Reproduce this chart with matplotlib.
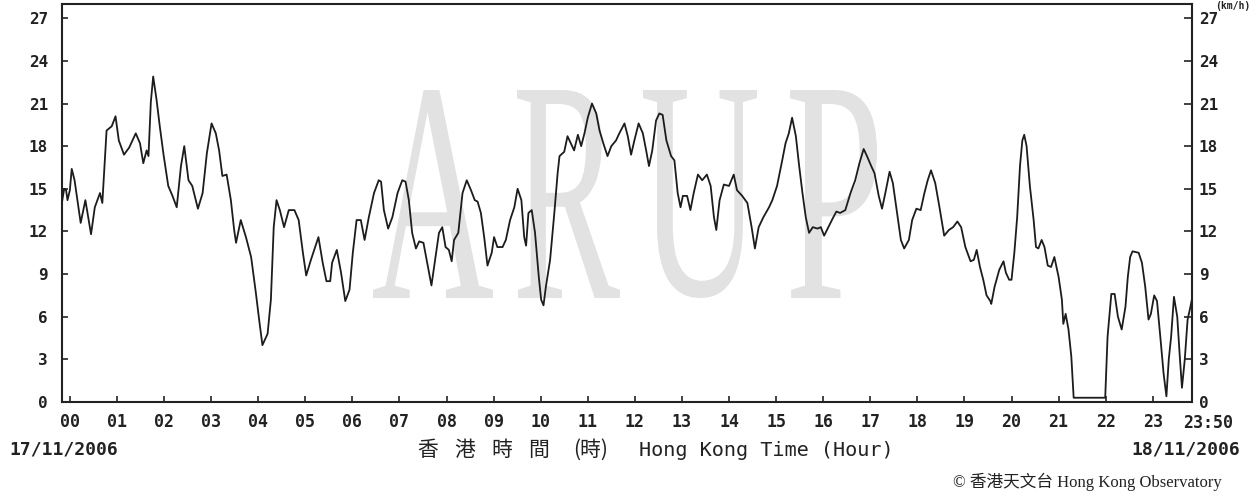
import matplotlib
matplotlib.use("Agg")
import matplotlib.pyplot as plt
from matplotlib.font_manager import FontProperties
from matplotlib.textpath import TextPath
from matplotlib.patches import PathPatch
from matplotlib.transforms import Affine2D

# wind speed (km/h), time in hours of 17/11/2006 (last 24 h ending 23:50)
hours = [
    -0.17, -0.12, -0.08, -0.05, 0.00, 0.04, 0.10, 0.23, 0.33, 0.45, 0.53, 0.64, 0.69,
    0.78, 0.89, 0.97, 1.04, 1.15, 1.26, 1.40, 1.49, 1.56, 1.63, 1.67, 1.72, 1.77,
    1.84, 1.91, 1.99, 2.09, 2.18, 2.27, 2.36, 2.43, 2.52, 2.60, 2.72, 2.82, 2.91,
    3.01, 3.10, 3.17, 3.24, 3.33, 3.42, 3.49, 3.53, 3.63, 3.74, 3.85, 3.95, 4.02,
    4.09, 4.20, 4.27, 4.33, 4.39, 4.46, 4.55, 4.65, 4.77, 4.86, 4.95, 5.02, 5.12,
    5.21, 5.28, 5.37, 5.45, 5.53, 5.57, 5.67, 5.76, 5.85, 5.94, 6.01, 6.09, 6.18,
    6.26, 6.35, 6.46, 6.56, 6.61, 6.67, 6.76, 6.85, 6.96, 7.06, 7.13, 7.20, 7.27,
    7.35, 7.42, 7.51, 7.59, 7.68, 7.75, 7.84, 7.91, 7.98, 8.05, 8.11, 8.16, 8.25,
    8.34, 8.43, 8.52, 8.60, 8.66, 8.73, 8.80, 8.87, 8.96, 9.01, 9.08, 9.19, 9.26,
    9.35, 9.44, 9.51, 9.59, 9.65, 9.69, 9.74, 9.81, 9.88, 9.96, 10.01, 10.06, 10.11,
    10.20, 10.29, 10.36, 10.40, 10.50, 10.57, 10.64, 10.71, 10.79, 10.86, 10.93,
    11.00, 11.09, 11.18, 11.25, 11.33, 11.42, 11.50, 11.60, 11.67, 11.78, 11.85,
    11.92, 11.99, 12.08, 12.17, 12.24, 12.30, 12.37, 12.45, 12.52, 12.59, 12.67,
    12.77, 12.84, 12.91, 12.97, 13.02, 13.11, 13.18, 13.25, 13.34, 13.43, 13.53,
    13.61, 13.68, 13.73, 13.80, 13.89, 14.00, 14.10, 14.17, 14.28, 14.39, 14.48,
    14.55, 14.63, 14.73, 14.85, 14.92, 15.02, 15.13, 15.20, 15.27, 15.34, 15.42,
    15.49, 15.56, 15.63, 15.70, 15.78, 15.88, 15.95, 16.02, 16.11, 16.20, 16.28,
    16.36, 16.47, 16.58, 16.68, 16.77, 16.86, 16.93, 17.02, 17.09, 17.18, 17.25,
    17.32, 17.41, 17.48, 17.57, 17.65, 17.72, 17.82, 17.89, 17.98, 18.07, 18.15,
    18.22, 18.29, 18.38, 18.47, 18.57, 18.67, 18.76, 18.85, 18.93, 19.02, 19.13,
    19.20, 19.26, 19.33, 19.40, 19.47, 19.55, 19.57, 19.64, 19.74, 19.83, 19.88,
    19.95, 20.00, 20.06, 20.12, 20.18, 20.23, 20.27, 20.32, 20.39, 20.47, 20.52,
    20.57, 20.64, 20.70, 20.77, 20.84, 20.91, 21.00, 21.07, 21.10, 21.15, 21.21,
    21.27, 21.32, 21.99, 22.04, 22.12, 22.19, 22.26, 22.34, 22.42, 22.47, 22.52,
    22.57, 22.70, 22.77, 22.84, 22.91, 22.96, 23.03, 23.09, 23.16, 23.23, 23.29,
    23.34, 23.39, 23.45, 23.52, 23.57, 23.62, 23.68, 23.74, 23.80, 23.83,
]
speed = [
    14.0, 15.0, 14.9, 14.2, 14.9, 16.4, 15.6, 12.6, 14.2, 11.8, 13.7, 14.7, 14.0,
    19.1, 19.4, 20.1, 18.4, 17.4, 17.9, 18.9, 18.2, 16.8, 17.7, 17.3, 21.1, 22.9,
    21.3, 19.4, 17.4, 15.2, 14.5, 13.7, 16.6, 18.0, 15.6, 15.2, 13.6, 14.7, 17.5,
    19.6, 18.9, 17.7, 15.9, 16.0, 14.2, 12.1, 11.2, 12.8, 11.6, 10.2, 7.7, 5.8,
    4.0, 4.8, 7.2, 12.3, 14.2, 13.5, 12.3, 13.5, 13.5, 12.8, 10.5, 8.9, 10.0,
    10.9, 11.6, 9.8, 8.5, 8.5, 9.8, 10.7, 9.1, 7.1, 7.9, 10.5, 12.8, 12.8,
    11.4, 13.0, 14.7, 15.6, 15.5, 13.5, 12.2, 13.0, 14.7, 15.6, 15.5, 14.2, 11.9,
    10.8, 11.3, 11.2, 9.8, 8.2, 9.8, 11.9, 12.3, 10.9, 10.7, 9.9, 11.4, 11.9,
    14.7, 15.6, 14.9, 14.2, 14.1, 13.3, 11.6, 9.6, 10.5, 11.6, 10.9, 10.9, 11.4,
    12.8, 13.7, 15.0, 14.2, 11.6, 11.0, 13.3, 13.5, 11.9, 8.8, 7.2, 6.8, 8.1,
    10.0, 13.3, 16.1, 17.3, 17.6, 18.7, 18.2, 17.7, 18.8, 18.0, 18.9,
    20.0, 21.0, 20.3, 19.1, 18.2, 17.3, 18.0, 18.4, 18.9, 19.6, 18.7,
    17.4, 18.4, 19.6, 18.9, 17.7, 16.6, 17.7, 19.8, 20.3, 20.2, 18.4,
    17.3, 17.0, 14.7, 13.7, 14.5, 14.5, 13.5, 14.7, 16.0, 15.6, 16.0,
    15.2, 13.0, 12.1, 14.2, 15.3, 15.2, 16.0, 14.9, 14.5, 14.0, 12.3,
    10.8, 12.3, 13.0, 13.7, 14.2, 15.2, 17.0, 18.2, 18.9, 20.0, 18.7,
    16.6, 14.7, 13.0, 11.9, 12.3, 12.2, 12.3, 11.7, 12.3, 12.9, 13.4,
    13.3, 13.5, 14.7, 15.6, 16.8, 17.8, 17.3, 16.6, 16.1, 14.5, 13.6,
    14.7, 16.2, 15.4, 13.3, 11.4, 10.8, 11.4, 12.8, 13.6, 13.5, 14.7,
    15.6, 16.3, 15.4, 13.7, 11.7, 12.1, 12.3, 12.7, 12.3, 10.9, 9.9,
    10.0, 10.7, 9.5, 8.6, 7.5, 7.1, 6.9, 8.1, 9.3, 9.9, 9.1,
    8.6, 8.6, 10.5, 13.0, 16.6, 18.4, 18.8, 18.0, 15.2, 12.8, 10.9,
    10.8, 11.4, 10.9, 9.6, 9.5, 10.2, 8.8, 7.2, 5.5, 6.2, 5.1,
    3.2, 0.3, 0.3, 4.6, 7.6, 7.6, 6.0, 5.1, 6.7, 8.8, 10.2,
    10.6, 10.5, 9.8, 8.1, 5.8, 6.2, 7.5, 7.1, 4.6, 2.0, 0.4,
    3.0, 4.6, 7.4, 6.0, 3.4, 1.0, 3.0, 5.8, 6.7, 7.2,
]

hour_ticks = list(range(24))
hour_labels = [f"{h:02d}" for h in hour_ticks]
speed_ticks = list(range(0, 28, 3))

W, H = 1256, 495
fig = plt.figure(figsize=(W / 100, H / 100), dpi=100)
fig.patch.set_facecolor("white")

ax = fig.add_axes([62 / W, (H - 402) / H, 1130 / W, 398 / H])
ax.set_xlim(-1 / 6, 23 + 5 / 6)
ax.set_ylim(0, 28)

mono_b = dict(family="DejaVu Sans Mono", weight="bold")

# faded ARUP watermark behind the trace, letters stretched to fill their boxes
wm_font = FontProperties(family="Liberation Serif")
wm_spans = [(373, 493), (517, 620), (643, 757), (790, 877)]
wm_top, wm_bottom = 90, 298
for letter, (x0, x1) in zip("ARUP", wm_spans):
    p = TextPath((0, 0), letter, size=100, prop=wm_font)
    ext = p.get_extents()
    tr = (Affine2D()
          .translate(-ext.x0, -ext.y0)
          .scale((x1 - x0) / ext.width, (wm_bottom - wm_top) / ext.height)
          .translate(x0, H - wm_bottom)
          .scale(1 / W, 1 / H)) + fig.transFigure
    ax.add_patch(PathPatch(p, transform=tr, fc="#e2e2e2", ec="none", zorder=1))

ax.plot(hours, speed, color="#1c1c1c", lw=1.3, zorder=3)

for s in ax.spines.values():
    s.set_linewidth(1.5)
    s.set_color("#222222")

ax.set_xticks(hour_ticks)
ax.set_xticklabels(hour_labels, fontsize=12, **mono_b)
ax.tick_params(axis="x", direction="in", length=4.5, width=1.2, pad=8, colors="#222222")
ax.set_yticks(speed_ticks)
ax.set_yticklabels([str(v) for v in speed_ticks], fontsize=11.5, **mono_b)
ax.tick_params(axis="y", direction="in", length=4.5, width=1.2, pad=10, colors="#222222")

ax2 = ax.twinx()
ax2.set_ylim(ax.get_ylim())
ax2.set_yticks(speed_ticks)
ax2.set_yticklabels([str(v) for v in speed_ticks], fontsize=11.5, **mono_b)
ax2.tick_params(axis="y", direction="in", length=6, width=1.2, pad=5, colors="#222222")
for s in ax2.spines.values():
    s.set_visible(False)

ax.annotate("23:50", xy=(1, 0), xycoords="axes fraction", xytext=(16, -12),
            textcoords="offset pixels", ha="center", va="top", fontsize=12,
            color="#222222", **mono_b)

# dates under the axis ends
fig.text(9 / W, 1 - 449 / H, "17/11/2006", ha="left", va="center",
         fontsize=13, color="#222222", **mono_b)
fig.text(1240 / W, 1 - 449 / H, "18/11/2006", ha="right", va="center",
         fontsize=13, color="#222222", **mono_b)

# axis title: Chinese part spaced out, English part in mono
for ch, cx in zip(["香", "港", "時", "間", "(時)"], [428, 465, 502, 539, 591]):
    fig.text(cx / W, 1 - 450 / H, ch, ha="center", va="center", fontsize=15,
             family=["Noto Sans CJK TC", "DejaVu Sans"], color="#222222")
fig.text(639 / W, 1 - 450 / H, "Hong Kong Time (Hour)", ha="left", va="center",
         fontsize=14.5, family="DejaVu Sans Mono", color="#222222")

fig.text(1222 / W, 1 - 482 / H, "© 香港天文台 Hong Kong Observatory", ha="right",
         va="center", fontsize=12, family=["Liberation Serif", "Noto Sans CJK TC"],
         color="#222222")

# unit label tucked into the top-right corner
fig.text(1250 / W, 1 - 1 / H, "(km/h)", ha="right", va="top",
         fontsize=7, color="#222222", **mono_b)

fig.savefig("out.png", dpi=100, facecolor="white")
